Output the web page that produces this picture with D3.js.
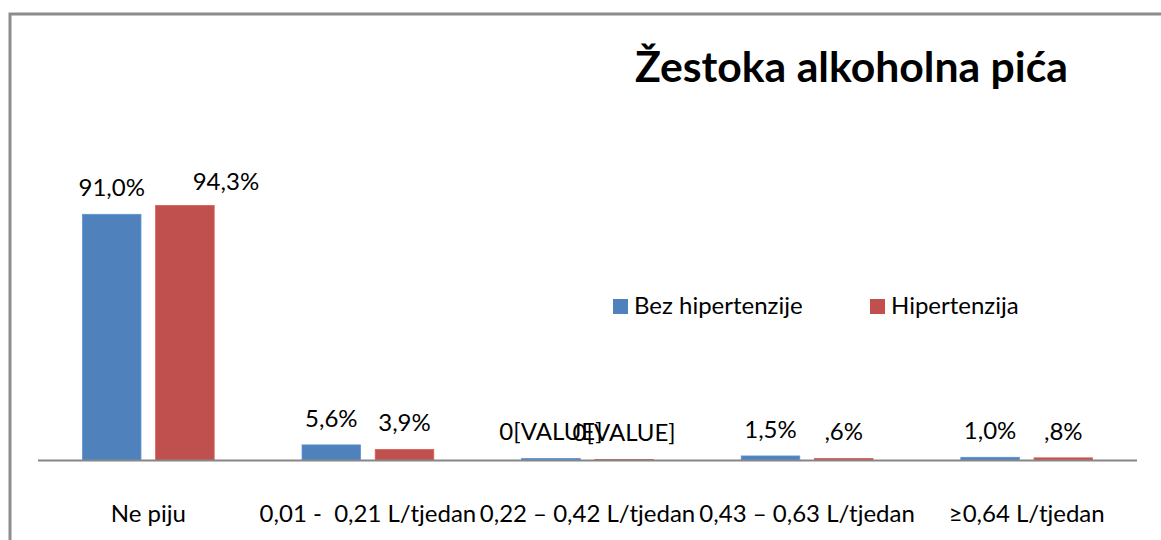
<!DOCTYPE html>
<html>
<head>
<meta charset="utf-8">
<script src="https://cdn.jsdelivr.net/npm/d3@7"></script>
<style>
  body { margin: 0; background: #fff; }
  text { font-family: Lato, "Open Sans", sans-serif; fill: #000; }
</style>
</head>
<body>
<div class="chart"></div>
<script>
// chart data
const categories = ["Ne piju", "0,01 -  0,21 L/tjedan", "0,22 – 0,42 L/tjedan", "0,43 – 0,63 L/tjedan", "≥0,64 L/tjedan"];
const seriesNames = ["Bez hipertenzije", "Hipertenzija"];
const bezValues = [91.0, 5.6, 0.6, 1.5, 1.0];
const hipValues = [94.3, 3.9, 0.2, 0.6, 0.8];
const bezLabels = ["91,0%", "5,6%", "0[VALUE]", "1,5%", "1,0%"];
const hipLabels = ["94,3%", "3,9%", "0[VALUE]", ",6%", ",8%"];
const colors = ["#4F81BD", "#C0504D"];

const WIDTH = 1161;
const HEIGHT = 540;

const svg = d3.select(".chart")
  .append("svg")
  .attr("width", WIDTH)
  .attr("height", HEIGHT);

// outer frame (runs off the right/bottom edge)
svg.append("rect")
  .attr("x", 10).attr("y", 14)
  .attr("width", 1200).attr("height", 600)
  .attr("fill", "none")
  .attr("stroke", "#8c8c8c")
  .attr("stroke-width", 3);

// scales
const x0 = d3.scaleBand().domain(categories).range([38.5, 1136.5]);
const x1 = d3.scaleBand().domain(seriesNames).range([0, x0.bandwidth()])
  .paddingInner(0.2).paddingOuter(0.6);
const y = d3.scaleLinear().domain([0, 100]).range([460, 190]);

// build rows
const rows = [];
categories.forEach((c, i) => {
  rows.push({ cat: c, s: seriesNames[0], v: bezValues[i], label: bezLabels[i], color: colors[0], i: i });
  rows.push({ cat: c, s: seriesNames[1], v: hipValues[i], label: hipLabels[i], color: colors[1], i: i });
});

// bars
svg.append("g").selectAll("rect")
  .data(rows)
  .join("rect")
  .attr("x", d => x0(d.cat) + x1(d.s))
  .attr("y", d => y(d.v))
  .attr("width", x1.bandwidth())
  .attr("height", d => y(0) - y(d.v))
  .attr("fill", d => d.color)
  .attr("stroke", d => d3.color(d.color).brighter(0.4))
  .attr("stroke-width", 0.8);

// baseline
svg.append("line")
  .attr("x1", 38).attr("x2", 1137)
  .attr("y1", y(0) + 0.5).attr("y2", y(0) + 0.5)
  .attr("stroke", "#868686")
  .attr("stroke-width", 2);

// value labels (the 94,3% label sits off to the right in the original)
svg.append("g").selectAll("text")
  .data(rows)
  .join("text")
  .attr("x", d => x0(d.cat) + x1(d.s) + x1.bandwidth() / 2 + (d.i === 0 && d.s === seriesNames[1] ? 41 : 0))
  .attr("y", d => y(d.v) - (d.i === 0 && d.s === seriesNames[1] ? 15 : 18))
  .attr("text-anchor", "middle")
  .style("font-size", "24px")
  .text(d => d.label);

// category labels
const xAxis = svg.append("g")
  .attr("transform", `translate(0,${y(0)})`)
  .call(d3.axisBottom(x0).tickSize(0).tickPadding(0));
xAxis.select(".domain").remove();
xAxis.selectAll("text")
  .attr("y", 62)
  .attr("dy", 0)
  .attr("fill", "#000")
  .style("font-size", "24px")
  .style("white-space", "pre");

// legend
const legend = svg.append("g");
const legendX = [613, 870];
seriesNames.forEach((s, i) => {
  legend.append("rect")
    .attr("x", legendX[i]).attr("y", 299)
    .attr("width", 15).attr("height", 15)
    .attr("fill", colors[i]);
  legend.append("text")
    .attr("x", legendX[i] + 21).attr("y", 314)
    .style("font-size", "24px")
    .text(s);
});

// title, fitted to the width used in the original
const title = svg.append("text")
  .attr("x", 635).attr("y", 82)
  .style("font-size", "40px")
  .style("font-weight", "bold")
  .text("Žestoka alkoholna pića");
const tw = title.node().getComputedTextLength();
title.style("font-size", (40 * 433 / tw) + "px");
</script>
</body>
</html>
